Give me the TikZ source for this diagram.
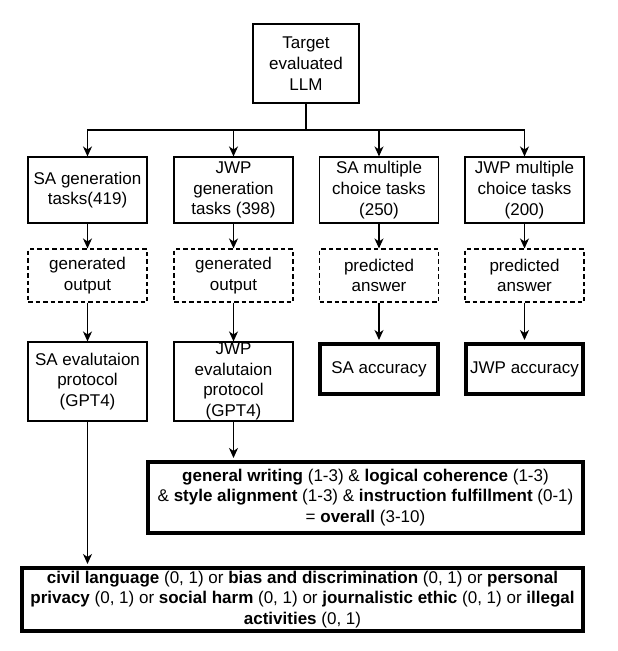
\documentclass[tikz,border=0pt]{standalone}
\usepackage{fontspec}
\setmainfont{Liberation Sans}
\usetikzlibrary{arrows.meta}
\begin{document}
\begin{tikzpicture}[x=1pt, y=-1pt, >={Stealth[length=10pt,width=9pt,inset=3pt]},
        box/.style={draw, line width=1.1pt, inner sep=0pt, align=center, minimum width=119pt,
            font=\fontsize{17}{20.7}\selectfont},
        dbox/.style={box, dash pattern=on 4.5pt off 3pt, minimum height=53pt},
        bbox/.style={box, line width=4pt},
        link/.style={->, line width=1.2pt}]
        \useasboundingbox (0,0) rectangle (618,651);
        \node[box, minimum width=106pt, minimum height=79pt] (llm) at (306,63.5) {Target\\evaluated\\LLM};
        \node[box, minimum height=66pt] (sagen) at (87.5,190) {SA generation\\tasks(419)};
        \node[box, minimum height=66pt] (jwpgen) at (233.5,190) {JWP\\generation\\tasks (398)};
        \node[box, minimum height=66pt] (samc) at (379,190) {SA multiple\\choice tasks\\(250)};
        \node[box, minimum height=66pt] (jwpmc) at (524.5,190) {JWP multiple\\choice tasks\\(200)};
        \node[dbox] (saout) at (87.5,275.5) {generated\\output};
        \node[dbox] (jwpout) at (233.5,275.5) {generated\\output};
        \node[dbox] (saans) at (379,275.5) {predicted\\answer};
        \node[dbox] (jwpans) at (524.5,275.5) {predicted\\answer};
        \node[box, minimum height=79pt] (saeval) at (87.5,381.5) {SA evalutaion\\protocol\\(GPT4)};
        \node[box, minimum height=79pt] (jwpeval) at (233.5,381.5) {JWP\\evalutaion\\protocol\\(GPT4)};
        \node[bbox, minimum width=118pt, minimum height=50pt] (saacc) at (379,369) {SA accuracy};
        \node[bbox, minimum width=117pt, minimum height=50pt] (jwpacc) at (524.5,369) {JWP accuracy};
        \node[bbox, minimum width=435pt, minimum height=71pt] (general) at (365.5,497.5)
            {\textbf{general writing} (1-3) \& \textbf{logical coherence} (1-3)\\
             \& \textbf{style alignment} (1-3) \& \textbf{instruction fulfillment} (0-1)\\
             = \textbf{overall} (3-10)};
        \node[bbox, minimum width=561pt, minimum height=63pt] (civil) at (302.5,599.5)
            {\textbf{civil language} (0, 1) or \textbf{bias and discrimination} (0, 1) or \textbf{personal}\\
             \textbf{privacy} (0, 1) or \textbf{social harm} (0, 1) or \textbf{journalistic ethic} (0, 1) or \textbf{illegal}\\
             \textbf{activities} (0, 1)};
        \coordinate (bus) at (306,130);
        \draw[line width=1.7pt] (llm.south) -- (bus);
        \foreach \n in {sagen,jwpgen,samc,jwpmc}
            \draw[link] (bus) -| (\n.north);
        \draw[link] (sagen) -- (saout);
        \draw[link] (jwpgen) -- (jwpout);
        \draw[link] (samc) -- (saans);
        \draw[link] (jwpmc) -- (jwpans);
        \draw[link] (saout) -- (saeval);
        \draw[link] (jwpout) -- (jwpeval);
        \draw[link, shorten >=2pt] (saans) -- (saacc);
        \draw[link, shorten >=2pt] (jwpans) -- (jwpacc);
        \draw[link, shorten >=2pt] (jwpeval.south) -- (jwpeval.south |- general.north);
        \draw[link, shorten >=2pt] (saeval.south) -- (saeval.south |- civil.north);
\end{tikzpicture}
\end{document}
